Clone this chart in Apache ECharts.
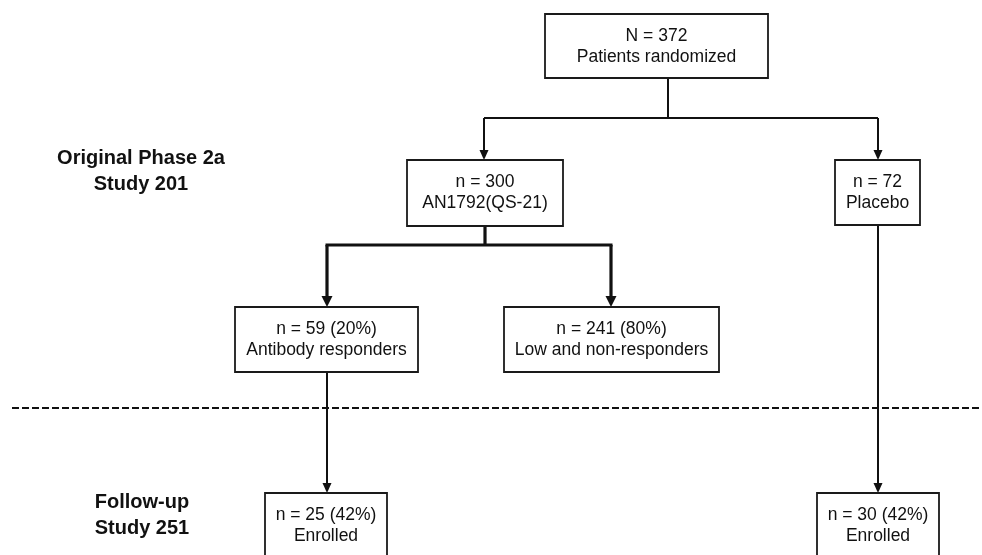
<!DOCTYPE html>
<html><head><meta charset="utf-8">
<script src="https://cdn.jsdelivr.net/npm/echarts@6/dist/echarts.min.js"></script>
<style>html,body{margin:0;padding:0;background:#fff}#c{width:982px;height:555px}</style>
</head><body><div id="c"></div>
<script>
// ---- content ----
const nodeCounts = ['N = 372', 'n = 300', 'n = 72', 'n = 59 (20%)', 'n = 241 (80%)', 'n = 25 (42%)', 'n = 30 (42%)'];
const nodeNames = ['Patients randomized', 'AN1792(QS-21)', 'Placebo', 'Antibody responders', 'Low and non-responders', 'Enrolled', 'Enrolled'];
const stageTitles = ['Original Phase 2a', 'Follow-up'];
const stageStudies = ['Study 201', 'Study 251'];

// ---- layout (chart units on hidden axes) ----
const boxLayout = [
  [545, 14, 768, 78],
  [407, 160, 563, 226],
  [835, 160, 920, 225],
  [235, 307, 418, 372],
  [504, 307, 719, 372],
  [265, 493, 387, 560],
  [817, 493, 939, 560]
];
const stageLayout = [[141, 158], [142, 502]];
const connectorLayout = [
  {pts: [[668, 78], [668, 118]], arrow: false, w: 2},
  {pts: [[484, 118], [878, 118]], arrow: false, w: 2},
  {pts: [[484, 118], [484, 160]], arrow: true, w: 2},
  {pts: [[878, 118], [878, 160]], arrow: true, w: 2},
  {pts: [[485, 226], [485, 245]], arrow: false, w: 3.2},
  {pts: [[325.5, 245], [612.5, 245]], arrow: false, w: 3.2},
  {pts: [[327, 245], [327, 307]], arrow: true, w: 3.2},
  {pts: [[611, 245], [611, 307]], arrow: true, w: 3.2},
  {pts: [[327, 372], [327, 493]], arrow: true, w: 2},
  {pts: [[878, 225], [878, 493]], arrow: true, w: 2}
];
const dividerLayout = [[12, 408], [982, 408]];

const FONT = '"Liberation Sans", Arial, sans-serif';
const INK = '#111';

const chart = echarts.init(document.getElementById('c'), null, {renderer: 'canvas'});
chart.setOption({
  animation: false,
  backgroundColor: '#fff',
  grid: {left: 0, right: 0, top: 0, bottom: 0},
  xAxis: {type: 'value', min: 0, max: 982, show: false},
  yAxis: {type: 'value', min: 0, max: 555, inverse: true, show: false},
  series: [
    {
      type: 'custom', clip: false,
      data: [[0]],
      renderItem(params, api) {
        const a = api.coord(dividerLayout[0]), b = api.coord(dividerLayout[1]);
        return {type: 'line', shape: {x1: a[0], y1: a[1], x2: b[0], y2: b[1]},
          style: {stroke: INK, lineWidth: 2, lineDash: [7, 3]}};
      }
    },
    {
      type: 'custom', clip: false,
      data: connectorLayout.map((c, i) => [i]),
      renderItem(params, api) {
        const c = connectorLayout[api.value(0)];
        const pts = c.pts.map(p => api.coord(p));
        const children = [];
        const L = c.w > 2.5 ? 11 : 10, H = c.w > 2.5 ? 5.5 : 4.5;
        const shaft = pts.map(p => p.slice());
        if (c.arrow) {
          const end = pts[pts.length - 1];
          shaft[shaft.length - 1] = [end[0], end[1] - L + 2];
          children.push({type: 'polygon', shape: {points: [[end[0], end[1]], [end[0] - H, end[1] - L], [end[0] + H, end[1] - L]]},
            style: {fill: INK}});
        }
        children.unshift({type: 'polyline', shape: {points: shaft}, style: {stroke: INK, lineWidth: c.w, fill: null}});
        return {type: 'group', children};
      }
    },
    {
      type: 'custom', clip: false,
      data: nodeCounts.map((c, i) => [i]),
      renderItem(params, api) {
        const i = api.value(0);
        const b = boxLayout[i];
        const p0 = api.coord([b[0], b[1]]), p1 = api.coord([b[2], b[3]]);
        const cx = (p0[0] + p1[0]) / 2;
        return {type: 'group', children: [
          {type: 'rect', shape: {x: p0[0], y: p0[1], width: p1[0] - p0[0], height: p1[1] - p0[1]},
            style: {fill: '#fff', stroke: '#1a1a1a', lineWidth: 1.8}},
          {type: 'text', style: {x: cx, y: p0[1] + 22, text: nodeCounts[i], align: 'center', verticalAlign: 'middle',
            font: '17.5px ' + FONT, fill: INK}},
          {type: 'text', style: {x: cx, y: p0[1] + 43, text: nodeNames[i], align: 'center', verticalAlign: 'middle',
            font: '17.5px ' + FONT, fill: INK}}
        ]};
      }
    },
    {
      type: 'custom', clip: false,
      data: stageTitles.map((s, i) => [i]),
      renderItem(params, api) {
        const i = api.value(0);
        const p = api.coord(stageLayout[i]);
        return {type: 'group', children: [
          {type: 'text', style: {x: p[0], y: p[1], text: stageTitles[i], align: 'center', verticalAlign: 'middle',
            font: 'bold 20px ' + FONT, fill: INK}},
          {type: 'text', style: {x: p[0], y: p[1] + 26, text: stageStudies[i], align: 'center', verticalAlign: 'middle',
            font: 'bold 20px ' + FONT, fill: INK}}
        ]};
      }
    }
  ]
});
</script>
</body></html>
